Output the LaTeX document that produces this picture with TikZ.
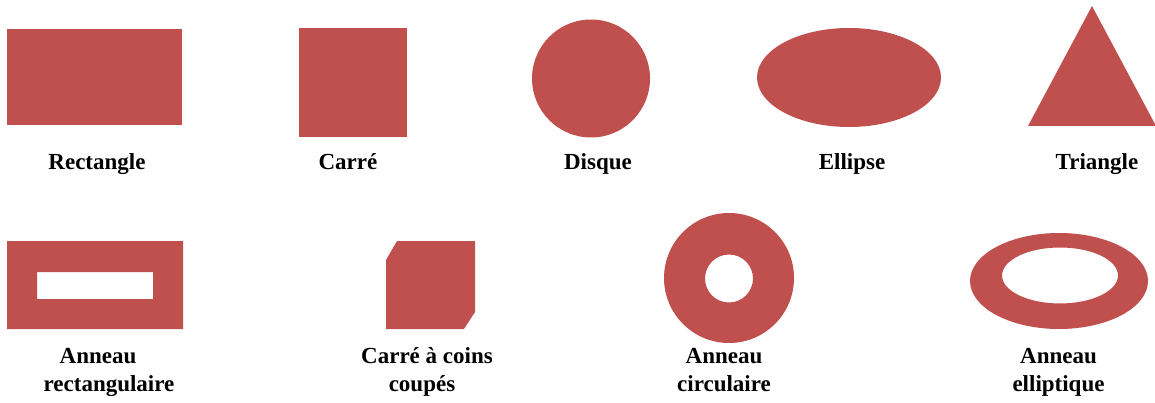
\documentclass[tikz,border=0pt]{standalone}
\usepackage{fontspec}
\setmainfont{Liberation Serif}
\definecolor{shapered}{RGB}{192,80,77}
\begin{document}
\begin{tikzpicture}[x=1pt,y=-1pt,
  shapefill/.style={fill=shapered},
  lbl/.style={anchor=base,inner sep=0pt,font=\fontsize{23}{28}\selectfont\bfseries}]
\useasboundingbox (0,0) rectangle (1155,403);
% top row
\fill[shapefill] (7,29) rectangle (182,125);
\fill[shapefill] (299,28) rectangle (407,137);
\fill[shapefill] (591,78.5) circle[radius=59pt];
\fill[shapefill] (849,77.5) ellipse[x radius=92pt,y radius=49.5pt];
\fill[shapefill] (1028,126) -- (1156,126) -- (1092,6) -- cycle;
% bottom row
\fill[shapefill,even odd rule] (7,241) rectangle (183,329) (37,272) rectangle (153,299);
\fill[shapefill] (397,241) -- (475,241) -- (475,312) -- (464,329) -- (386,329) -- (386,260) -- cycle;
\fill[shapefill,even odd rule] (729,278) circle[radius=65pt] (729,278.5) circle[radius=24pt];
\fill[shapefill,even odd rule] (1059,281) ellipse[x radius=89pt,y radius=48pt] (1060,275.5) ellipse[x radius=58pt,y radius=28pt];
% labels
\node[lbl] (l1) at (97,170) {Rectangle};
\node[lbl] (l2) at (348,170) {Carré};
\node[lbl] (l3) at (598,170) {Disque};
\node[lbl] (l4) at (852,170) {Ellipse};
\node[lbl] (l5) at (1097,170) {Triangle};
\node[lbl] (l6) at (109,363.5) {\tabcolsep=0pt\begin{tabular}[t]{c}Anneau\hspace*{22pt}\\rectangulaire\end{tabular}};
\node[lbl] (l7) at (427,363.5) {\tabcolsep=0pt\begin{tabular}[t]{c}Carré à coins\\coupés\hspace*{10pt}\end{tabular}};
\node[lbl] (l8) at (724,363.5) {\tabcolsep=0pt\begin{tabular}[t]{c}Anneau\\circulaire\end{tabular}};
\node[lbl] (l9) at (1058.5,363.5) {\tabcolsep=0pt\begin{tabular}[t]{c}Anneau\\elliptique\end{tabular}};
\end{tikzpicture}
\end{document}
